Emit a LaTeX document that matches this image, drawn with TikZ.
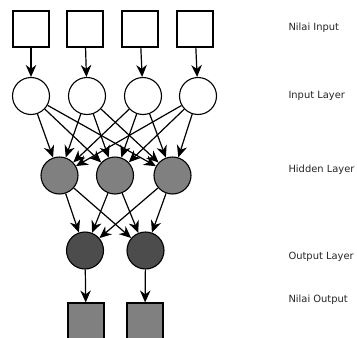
\documentclass[tikz,border=0pt]{standalone}
\usepackage{fontspec}
\setmainfont{DejaVu Sans}
\usetikzlibrary{arrows.meta}

\begin{document}
\begin{tikzpicture}[
    x=1pt, y=-1pt,
    inbox/.style={rectangle, draw=black, fill=white, line width=1.1pt, minimum size=36pt, inner sep=0pt},
    outbox/.style={inbox, fill=black!50},
    neuron/.style={circle, draw=black, fill=white, line width=1.1pt, minimum size=37pt, inner sep=0pt},
    hidden/.style={neuron, fill=black!50},
    outneuron/.style={neuron, fill=black!70},
    arrow/.style={-{Stealth[length=12pt, width=10.5pt]}, line width=1.2pt},
    label/.style={anchor=west, font=\fontsize{9.9}{11}\selectfont, text=black!85}
]
    \useasboundingbox (0,0) rectangle (357,338);

    % Input values
    \node[inbox] (v1) at (31,29) {};
    \node[inbox] (v2) at (85,29) {};
    \node[inbox] (v3) at (140,29) {};
    \node[inbox] (v4) at (195,29) {};

    % Input layer
    \node[neuron] (i1) at (31,96) {};
    \node[neuron] (i2) at (87,96) {};
    \node[neuron] (i3) at (143,96) {};
    \node[neuron] (i4) at (198,96) {};

    % Hidden layer
    \node[hidden] (h1) at (59.5,175.5) {};
    \node[hidden] (h2) at (115,175.5) {};
    \node[hidden] (h3) at (172.5,175.5) {};

    % Output layer
    \node[outneuron] (o1) at (85,250.5) {};
    \node[outneuron] (o2) at (145.5,250.5) {};

    % Output values
    \node[outbox] (r1) at (86,321) {};
    \node[outbox] (r2) at (145,321) {};

    % Connections
    \foreach \i in {1,2,3,4}
        \draw[arrow] (v\i) -- (i\i);

    \foreach \i in {1,2,3,4}
        \foreach \j in {1,2,3}
            \draw[arrow] (i\i) -- (h\j);

    \foreach \i in {1,2,3}
        \foreach \j in {1,2}
            \draw[arrow] (h\i) -- (o\j);

    \foreach \i in {1,2}
        \draw[arrow] (o\i) -- (r\i);

    % Labels
    \node[label] (l1) at (285,28) {Nilai Input};
    \node[label] (l2) at (285,96) {Input Layer};
    \node[label] (l3) at (285,170) {Hidden Layer};
    \node[label] (l4) at (285,257) {Output Layer};
    \node[label] (l5) at (285,300) {Nilai Output};
\end{tikzpicture}
\end{document}
